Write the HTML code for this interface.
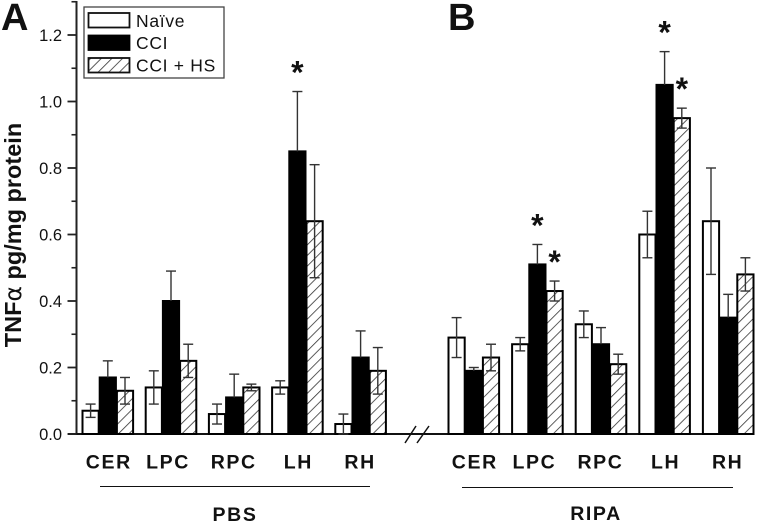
<!DOCTYPE html>
<html>
<head>
<meta charset="utf-8">
<style>
html,body{margin:0;padding:0;background:#fff;}
svg{display:block;}
text{font-family:"Liberation Sans",Arial,sans-serif;fill:#111;}
.tick{font-size:16.5px;}
.cat{font-size:19.5px;font-weight:bold;letter-spacing:1.6px;text-anchor:middle;}
.leg{font-size:17.5px;letter-spacing:0.7px;}
</style>
</head>
<body>
<svg id="chart" xmlns="http://www.w3.org/2000/svg" width="760" height="523" viewBox="0 0 760 523">
<defs>
<pattern id="hatch" patternUnits="userSpaceOnUse" width="7.5" height="7.5" patternTransform="rotate(45)">
<rect width="7.5" height="7.5" fill="#fff"/>
<line x1="0" y1="0" x2="0" y2="7.5" stroke="#333" stroke-width="1.6"/>
</pattern>
</defs>
<text x="1" y="30" font-size="38" font-weight="bold">A</text>
<text x="448" y="30" font-size="38" font-weight="bold">B</text>
<text transform="translate(21,235) rotate(-90)" text-anchor="middle" font-size="23.5" font-weight="bold">TNF<tspan font-family="'DejaVu Sans',sans-serif" font-weight="normal">α</tspan> pg/mg protein</text>
<g id="axes"></g>
<g id="bars"></g>
<g stroke="#111" stroke-width="1.5">
<line x1="405" y1="443" x2="416" y2="426"/>
<line x1="417" y1="443" x2="429" y2="426"/>
</g>
<line x1="100" y1="486.5" x2="370" y2="486.5" stroke="#111" stroke-width="1"/>
<line x1="462" y1="487.5" x2="733" y2="487.5" stroke="#111" stroke-width="1"/>
<text class="cat" x="235" y="521">PBS</text>
<text class="cat" x="596" y="520">RIPA</text>
<g>
<rect x="84" y="7" width="140" height="71" fill="#fff" stroke="#444" stroke-width="1.3"/>
<rect x="88.5" y="13" width="41" height="14.5" fill="#fff" stroke="#111" stroke-width="1.8"/>
<text class="leg" x="136" y="27">Naïve</text>
<rect x="88.5" y="35.5" width="41" height="14.5" fill="#000" stroke="#000" stroke-width="1.8"/>
<text class="leg" x="136" y="49">CCI</text>
<rect x="88.5" y="58" width="41" height="14.5" fill="url(#hatch)" stroke="#111" stroke-width="1.8"/>
<text class="leg" x="136" y="71.5">CCI + HS</text>
</g>
</svg>
<script>
var categories = ["CER", "LPC", "RPC", "LH", "RH"];
var yTickLabels = ["0.0", "0.2", "0.4", "0.6", "0.8", "1.0", "1.2"];
var yMinorTicks = [0.1, 0.3, 0.5, 0.7, 0.9, 1.1, 1.3];

var pbsNaive = [0.07, 0.14, 0.06, 0.14, 0.03];
var pbsNaiveHigh = [0.09, 0.19, 0.09, 0.16, 0.06];
var pbsNaiveLow = [0.05, 0.09, 0.03, 0.12, 0.00];
var pbsCci = [0.17, 0.40, 0.11, 0.85, 0.23];
var pbsCciHigh = [0.22, 0.49, 0.18, 1.03, 0.31];
var pbsHs = [0.13, 0.22, 0.14, 0.64, 0.19];
var pbsHsHigh = [0.17, 0.27, 0.15, 0.81, 0.26];
var pbsHsLow = [0.09, 0.17, 0.13, 0.47, 0.12];

var ripaNaive = [0.29, 0.27, 0.33, 0.60, 0.64];
var ripaNaiveHigh = [0.35, 0.29, 0.37, 0.67, 0.80];
var ripaNaiveLow = [0.23, 0.25, 0.29, 0.53, 0.48];
var ripaCci = [0.19, 0.51, 0.27, 1.05, 0.35];
var ripaCciHigh = [0.20, 0.57, 0.32, 1.15, 0.42];
var ripaHs = [0.23, 0.43, 0.21, 0.95, 0.48];
var ripaHsHigh = [0.27, 0.46, 0.24, 0.98, 0.53];
var ripaHsLow = [0.19, 0.40, 0.18, 0.92, 0.43];

var pbsCciStars = [0, 0, 0, 1, 0];
var pbsHsStars = [0, 0, 0, 0, 0];
var ripaCciStars = [0, 1, 0, 1, 0];
var ripaHsStars = [0, 1, 0, 1, 0];

var SVGNS = "http://www.w3.org/2000/svg";
var axesLayer = document.getElementById("axes");
var barsLayer = document.getElementById("bars");

function yScale(v) { return 434 - v * 332.5; }
function pbsX(i) { return 82 + i * 63.2; }
function ripaX(i) { return 448 + i * 63.6; }
var BAR_W = 17.2;

function labelNudge(name) {
  if (name === "LPC") { return -4; }
  if (name === "RPC" || name === "RH") { return -1.5; }
  return 0;
}

function make(tag, parent) {
  var el = document.createElementNS(SVGNS, tag);
  parent.appendChild(el);
  return el;
}
function setLine(el, x1, y1, x2, y2, color, width) {
  el.setAttribute("x1", x1);
  el.setAttribute("y1", y1);
  el.setAttribute("x2", x2);
  el.setAttribute("y2", y2);
  el.setAttribute("stroke", color);
  el.setAttribute("stroke-width", width);
}

function drawAxes() {
  var yAxis = make("line", axesLayer);
  
  
  setLine(yAxis, 76.5, 1, 76.5, 435, "#222", 2);

  var xAxis = make("line", axesLayer);
  
  
  setLine(xAxis, 68, 434, 754, 434, "#111", 2);

  yTickLabels.forEach(function (label) {
    var v = parseFloat(label);
    var tick = make("line", axesLayer);
    
    
    setLine(tick, 67.5, yScale(v), 76.5, yScale(v), "#222", 1.8);

    var t = make("text", axesLayer);
    
    
    t.setAttribute("class", "tick");
    t.setAttribute("x", 62);
    t.setAttribute("y", yScale(v) + 6);
    t.setAttribute("text-anchor", "end");
    t.textContent = label;
  });

  yMinorTicks.forEach(function (v) {
    var tick = make("line", axesLayer);
    
    
    setLine(tick, 71.5, yScale(v), 76.5, yScale(v), "#222", 1.6);
  });
}

function drawBar(x, value, high, low, fill, star) {
  var rect = make("rect", barsLayer);
  
  
  rect.setAttribute("x", x + 0.5);
  rect.setAttribute("y", yScale(value));
  rect.setAttribute("width", BAR_W - 1);
  rect.setAttribute("height", yScale(0) - yScale(value));
  rect.setAttribute("fill", fill);
  rect.setAttribute("stroke", "#000");
  rect.setAttribute("stroke-width", 2);

  var cx = x + BAR_W / 2;
  var stem = make("line", barsLayer);
  
  
  setLine(stem, cx, yScale(high), cx, yScale(low), "#333", 1.4);

  var capTop = make("line", barsLayer);
  
  
  setLine(capTop, cx - 5, yScale(high), cx + 5, yScale(high), "#333", 1.4);

  if (low < value) {
    var capBottom = make("line", barsLayer);
    
    
    setLine(capBottom, cx - 5, yScale(low), cx + 5, yScale(low), "#333", 1.4);
  }

  if (star) {
    var s = make("text", barsLayer);
    
    
    s.setAttribute("x", cx);
    s.setAttribute("y", yScale(high) - 25 + 17);
    s.setAttribute("text-anchor", "middle");
    s.setAttribute("font-size", "32");
    s.setAttribute("font-weight", "bold");
    s.textContent = "*";
  }
}

function drawCategoryLabel(x, name) {
  var t = make("text", barsLayer);
  
  
  t.setAttribute("class", "cat");
  t.setAttribute("x", x + labelNudge(name));
  t.setAttribute("y", 468.5);
  t.textContent = name;
}

function drawPanel(xFn, naive, nHi, nLo, cci, cHi, hs, hHi, hLo, cStars, hStars) {
  categories.forEach(function (name, i) {
    var x = xFn(i);
    drawBar(x, naive[i], nHi[i], nLo[i], "#fff", 0);
    drawBar(x + BAR_W, cci[i], cHi[i], cci[i], "#000", cStars[i]);
    drawBar(x + 2 * BAR_W, hs[i], hHi[i], hLo[i], "url(#hatch)", hStars[i]);
    drawCategoryLabel(x + 1.5 * BAR_W + 1, name);
  });
}

drawAxes();
drawPanel(pbsX, pbsNaive, pbsNaiveHigh, pbsNaiveLow, pbsCci, pbsCciHigh, pbsHs, pbsHsHigh, pbsHsLow, pbsCciStars, pbsHsStars);
drawPanel(ripaX, ripaNaive, ripaNaiveHigh, ripaNaiveLow, ripaCci, ripaCciHigh, ripaHs, ripaHsHigh, ripaHsLow, ripaCciStars, ripaHsStars);
</script>
</body>
</html>
